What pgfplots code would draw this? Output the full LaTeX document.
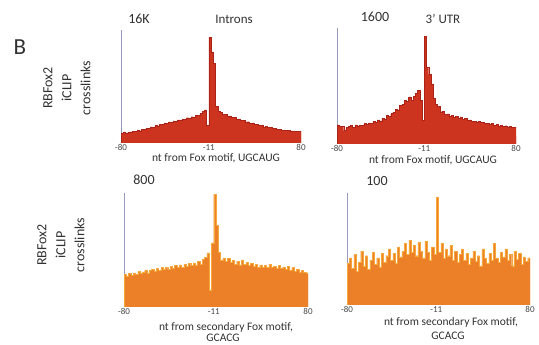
\documentclass[border=0pt]{standalone}
\usepackage{pgfplots}
\pgfplotsset{compat=1.18}
\usepackage{fontspec}
\setmainfont{Carlito}

\definecolor{txt}{RGB}{50,50,50}
\definecolor{redfill}{RGB}{205,52,32}
\definecolor{rededge}{RGB}{172,34,22}
\definecolor{orfill}{RGB}{236,128,40}
\definecolor{oredge}{RGB}{247,168,58}
\definecolor{axln}{RGB}{150,155,190}

\pgfplotsset{
  panel/.style={
    scale only axis,
    xmin=0, xmax=160, ymin=0,
    axis x line*=bottom, axis y line*=left,
    x axis line style={draw=none},
    y axis line style={draw=axln, line width=0.6pt, -},
    ytick=\empty,
    xtick={0,78,160}, xticklabels={-80,-11,80},
    major tick length=0pt,
    xticklabel style={font=\fontsize{9}{10}\selectfont, text=txt!90, inner sep=1.5pt},
    /pgf/number format/assume math mode=true,
  },
  redbars/.style={const plot, fill=redfill, draw=rededge, line width=0.4pt},
  orbars/.style={const plot, fill=orfill, draw=oredge, line width=0.4pt},
}

\begin{document}
\begin{tikzpicture}
\path[use as bounding box] (0pt,0pt) rectangle (539pt,345pt);

% Introns, primary motif UGCAUG (bin position 0..160 spans -80..80 nt)
\begin{axis}[panel, at={(121pt,202pt)}, width=180pt, height=113pt, ymax=16000]
\addplot[redbars] coordinates {
(0,1450)(2,1560)(4,1440)(6,1590)(8,1560)(10,1640)(12,1650)(14,1800)(16,1740)(18,1930)
(20,1900)(22,2100)(24,2080)(26,2290)(28,2260)(30,2450)(32,2420)(34,2640)(36,2600)(38,2850)
(40,2790)(42,2990)(44,2920)(46,3120)(48,3060)(50,3280)(52,3170)(54,3390)(56,3350)(58,3580)
(60,3500)(62,3720)(64,3650)(66,3880)(68,3900)(70,4150)(72,4480)(74,4700)(76,2500)(78,15000)
(80,12900)(82,11300)(84,5200)(86,4500)(88,4380)(90,4100)(92,4080)(94,3820)(96,3850)(98,3620)
(100,3600)(102,3380)(104,3410)(106,3190)(108,3220)(110,2990)(112,3010)(114,2820)(116,2840)(118,2650)
(120,2660)(122,2450)(124,2470)(126,2300)(128,2330)(130,2170)(132,2190)(134,2050)(136,2060)(138,1920)
(140,1950)(142,1830)(144,1840)(146,1750)(148,1790)(150,1690)(152,1720)(154,1640)(156,1670)(158,1600)
(160,1600)} \closedcycle;
\end{axis}

% 3' UTR, primary motif UGCAUG
\begin{axis}[panel, at={(337pt,201pt)}, width=179pt, height=116pt, ymax=1600]
\addplot[redbars] coordinates {
(0,265)(2,240)(4,240)(6,185)(8,230)(10,240)(12,258)(14,232)(16,265)(18,250)
(20,262)(22,258)(24,282)(26,268)(28,290)(30,282)(32,312)(34,298)(36,334)(38,318)
(40,356)(42,345)(44,392)(46,380)(48,420)(50,438)(52,482)(54,470)(56,530)(58,545)
(60,600)(62,585)(64,650)(66,600)(68,660)(70,700)(72,740)(74,600)(76,330)(78,1480)
(80,1060)(82,960)(84,830)(86,630)(88,545)(90,515)(92,445)(94,450)(96,410)(98,415)
(100,385)(102,395)(104,365)(106,385)(108,352)(110,375)(112,342)(114,350)(116,322)(118,332)
(120,310)(122,316)(124,302)(126,308)(128,295)(130,298)(132,282)(134,288)(136,270)(138,280)
(140,260)(142,268)(144,250)(146,262)(148,245)(150,252)(152,236)(154,242)(156,226)(158,230)
(160,220)} \closedcycle;
\end{axis}

% Introns, secondary motif GCACG
\begin{axis}[panel, at={(124pt,38pt)}, width=184pt, height=114pt, ymax=800]
\addplot[orbars] coordinates {
(0,230)(2,215)(4,236)(6,222)(8,240)(10,228)(12,250)(14,236)(16,246)(18,260)
(20,240)(22,256)(24,266)(26,250)(28,270)(30,256)(32,276)(34,262)(36,280)(38,264)
(40,286)(42,270)(44,290)(46,276)(48,296)(50,280)(52,300)(54,286)(56,306)(58,290)
(60,310)(62,296)(64,320)(66,300)(68,332)(70,350)(72,380)(74,120)(76,450)(78,790)
(80,575)(82,385)(84,330)(86,345)(88,320)(90,340)(92,312)(94,326)(96,300)(98,322)
(100,296)(102,330)(104,300)(106,312)(108,290)(110,306)(112,286)(114,300)(116,280)(118,296)
(120,280)(122,290)(124,276)(126,300)(128,280)(130,286)(132,270)(134,290)(136,275)(138,282)
(140,266)(142,285)(144,260)(146,276)(148,252)(150,266)(152,246)(154,256)(156,242)(158,240)
(160,240)} \closedcycle;
\end{axis}

% 3' UTR, secondary motif GCACG
\begin{axis}[panel, at={(347pt,40pt)}, width=183pt, height=112pt, ymax=100]
\addplot[orbars] coordinates {
(0,37)(2,42)(4,33)(6,45)(8,30)(10,38)(12,48)(14,35)(16,44)(18,32)
(20,40)(22,47)(24,36)(26,42)(28,34)(30,46)(32,38)(34,44)(36,50)(38,40)
(40,46)(42,37)(44,52)(46,43)(48,48)(50,55)(52,45)(54,58)(56,47)(58,53)
(60,44)(62,56)(64,48)(66,42)(68,57)(70,47)(72,40)(74,52)(76,45)(78,96)
(80,47)(82,55)(84,42)(86,50)(88,44)(90,53)(92,40)(94,48)(96,38)(98,45)
(100,50)(102,40)(104,46)(106,36)(108,42)(110,48)(112,39)(114,44)(116,35)(118,50)
(120,42)(122,37)(124,46)(126,40)(128,55)(130,42)(132,38)(134,47)(136,43)(138,50)
(140,40)(142,45)(144,35)(146,48)(148,41)(150,46)(152,36)(154,43)(156,39)(158,42)
(160,42)} \closedcycle;
\end{axis}

% panel letter, axis titles and counts
\begin{scope}[every node/.style={text=txt, inner sep=0pt}]
\node[font=\fontsize{23}{25}\selectfont] at (20pt,298pt) {B};
\node[rotate=90, align=center, font=\fontsize{14}{19}\selectfont] at (67pt,257pt) {RBFox2\\iCLIP\\crosslinks};
\node[rotate=90, align=center, font=\fontsize{14}{19}\selectfont] at (61pt,100pt) {RBFox2\\iCLIP\\crosslinks};
\node[font=\fontsize{14}{16}\selectfont] at (139pt,326pt) {16K};
\node[font=\fontsize{13}{15}\selectfont] at (234pt,326pt) {Introns};
\node[font=\fontsize{14}{16}\selectfont] at (375pt,328pt) {1600};
\node[font=\fontsize{13}{15}\selectfont] at (443pt,326pt) {3' UTR};
\node[font=\fontsize{14}{16}\selectfont] at (144pt,165pt) {800};
\node[font=\fontsize{14}{16}\selectfont] at (377pt,164pt) {100};
\node[font=\fontsize{11.5}{13}\selectfont] at (216pt,187pt) {nt from Fox motif, UGCAUG};
\node[font=\fontsize{11.5}{13}\selectfont] at (433pt,185pt) {nt from Fox motif, UGCAUG};
\node[font=\fontsize{11.5}{13}\selectfont] at (226pt,18pt) {nt from secondary Fox motif,};
\node[font=\fontsize{11.5}{13}\selectfont] at (223pt,7.5pt) {GCACG};
\node[font=\fontsize{11.5}{13}\selectfont] at (451pt,23pt) {nt from secondary Fox motif,};
\node[font=\fontsize{11.5}{13}\selectfont] at (448pt,9pt) {GCACG};
\end{scope}
\end{tikzpicture}
\end{document}
